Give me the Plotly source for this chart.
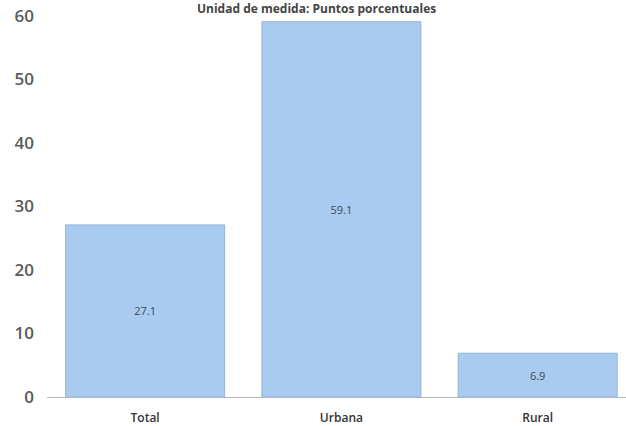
import plotly.graph_objects as go

categories = ["Total", "Urbana", "Rural"]
values = [27.1, 59.1, 6.9]
value_labels = ["27.1", "59.1", "6.9"]
y_ticks = [0, 10, 20, 30, 40, 50, 60]
title_text = "Unidad de medida: Puntos porcentuales"

fig = go.Figure(go.Bar(
    x=categories, y=values,
    text=value_labels, textposition="inside", insidetextanchor="middle",
    textfont=dict(family="Open Sans", size=11, color="#3a4a5c"),
    marker=dict(color="#a9cbef", line=dict(color="#8fb4e0", width=1)),
    width=0.81,
))

fig.update_layout(
    width=626, height=426,
    margin=dict(l=47, r=0, t=16, b=29, autoexpand=False),
    paper_bgcolor="white", plot_bgcolor="white",
    showlegend=False,
    xaxis=dict(range=[-0.5, 2.45], showgrid=False, showline=False, ticks="",
               automargin=False, ticklabelstandoff=12,
               tickfont=dict(family="Open Sans", size=12, color="#333333", weight=600)),
    yaxis=dict(range=[0, 60], tickvals=y_ticks, showgrid=False, showline=False,
               automargin=False,
               zeroline=True, zerolinecolor="#b5b5b5", zerolinewidth=1,
               ticks="", ticklabelstandoff=12,
               tickfont=dict(family="Open Sans", size=17, color="#5a5a5a", weight=600)),
    annotations=[dict(text="<b>" + title_text + "</b>", xref="paper", yref="paper",
                      x=0.465, y=1.0, yshift=8, xanchor="center", yanchor="middle",
                      showarrow=False,
                      font=dict(family="Open Sans", size=12, color="#444444"))],
)

fig.write_html("out.html", config={"displayModeBar": False},
               post_script="document.body.style.margin='0';document.body.style.overflow='hidden';")
